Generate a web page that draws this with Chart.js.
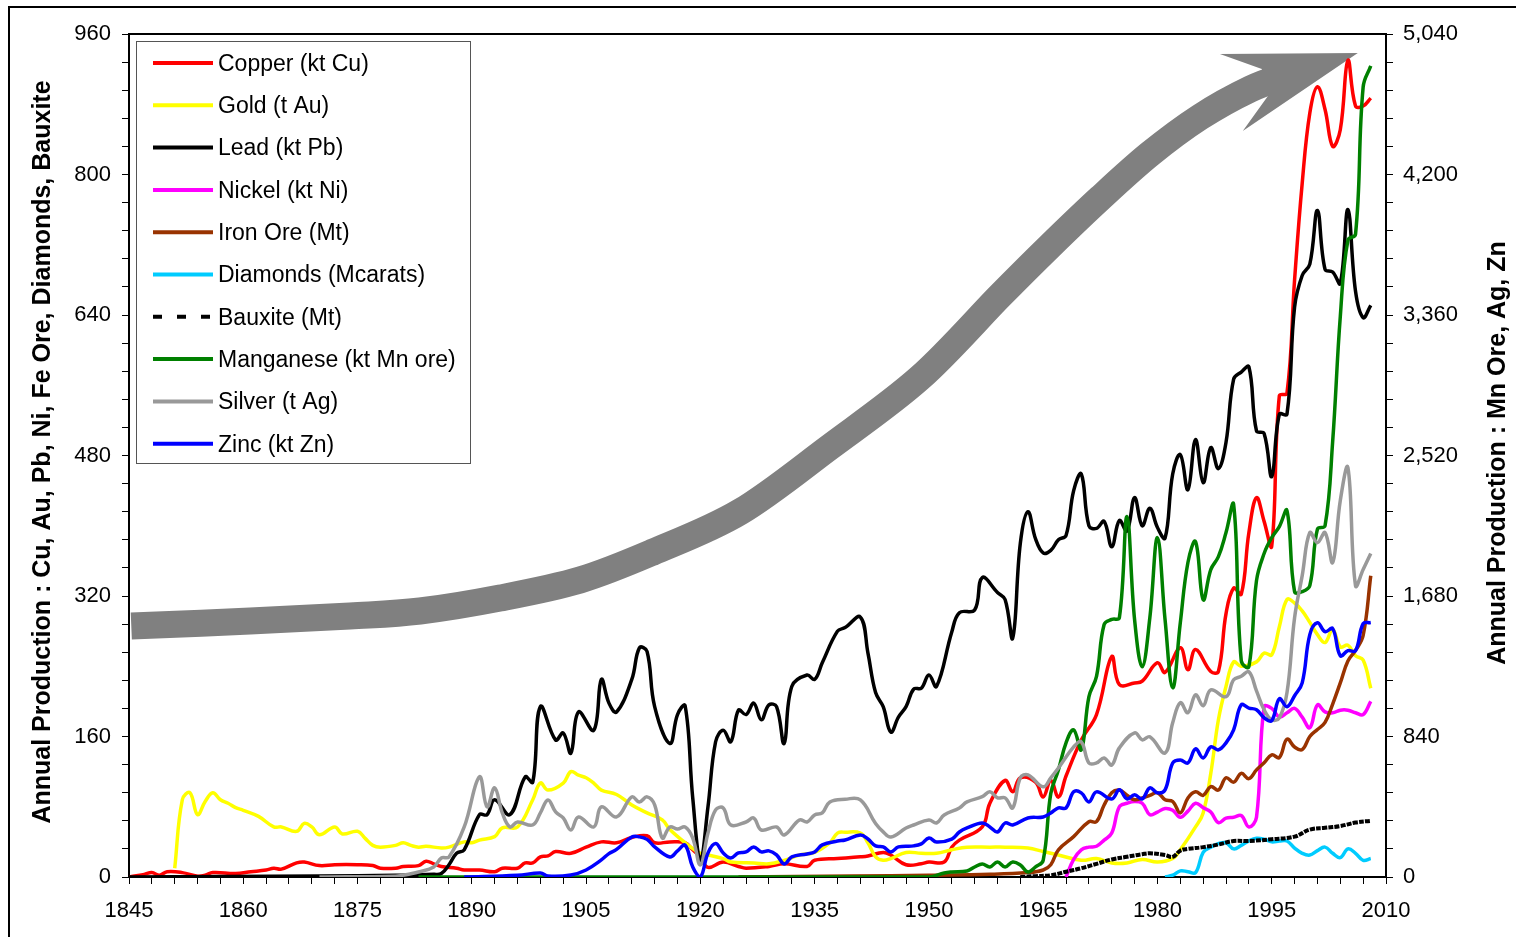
<!DOCTYPE html>
<html>
<head>
<meta charset="utf-8">
<title>Annual Production</title>
<script src="https://cdn.jsdelivr.net/npm/chart.js@4.4.1/dist/chart.umd.min.js"></script>
<style>
  html, body { margin: 0; padding: 0; background: #ffffff; }
  canvas { display: block; }
</style>
</head>
<body>
<canvas id="chart" width="1516" height="937"></canvas>
<script>
// ---- Series data (year, annual production) ----
const copperYears = [
  1845,1847,1848,1849,1850,1852,1854,1855,1856,1859,
  1861,1863,1864,1865,1867,1868,1870,1872,1875,1877,
  1878,1880,1881,1883,1884,1885,1886,1888,1889,1891,
  1893,1894,1896,1897,1898,1899,1900,1901,1903,1905,
  1907,1909,1911,1913,1914,1916,1918,1919,1920,1921,
  1923,1925,1926,1929,1931,1934,1935,1938,1941,1942,
  1944,1945,1947,1949,1950,1952,1953,1954,1957,1958,
  1960,1961,1962,1964,1965,1966,1967,1968,1970,1972,
  1974,1975,1977,1978,1980,1981,1983,1984,1985,1987,
  1988,1989,1990,1991,1992,1993,1994,1995,1996,1997,
  1998,1999,2000,2001,2002,2003,2004,2005,2006,2007,
  2008];
const copperValues = [
  0,3,5,2,6,5,1,2,5,4,
  6,8,10,9,16,17,13,14,14,13,
  10,10,12,13,18,15,12,10,8,8,
  6,10,10,16,16,23,24,29,27,34,
  40,39,45,47,39,40,39,31,23,11,
  17,12,10,12,15,12,19,21,23,24,
  28,25,14,15,17,17,34,42,57,84,
  110,97,113,108,91,110,91,115,156,185,
  251,219,221,223,244,233,261,236,259,234,
  234,300,329,322,392,432,405,377,548,551,
  680,790,870,900,874,832,851,930,878,878,
  887];

const goldYears = [
  1851,1852,1853,1854,1855,1856,1857,1858,1859,1860,
  1862,1864,1865,1867,1868,1869,1870,1872,1873,1875,
  1876,1877,1878,1880,1881,1882,1883,1884,1886,1887,
  1889,1890,1891,1893,1894,1896,1898,1899,1900,1902,
  1903,1904,1905,1906,1907,1909,1911,1913,1915,1916,
  1918,1920,1921,1923,1924,1927,1929,1931,1933,1935,
  1937,1938,1939,1941,1942,1943,1944,1945,1947,1949,
  1951,1953,1955,1958,1960,1963,1965,1967,1970,1972,
  1974,1976,1978,1980,1982,1983,1985,1986,1987,1988,
  1989,1990,1991,1993,1994,1995,1996,1997,1998,1999,
  2000,2001,2002,2003,2004,2005,2006,2007,2008];
const goldValues = [
  10,88,96,71,86,96,88,84,79,76,
  69,57,57,52,61,57,48,57,49,52,
  44,36,34,36,39,36,34,35,33,34,
  40,39,42,46,56,57,88,107,99,107,
  120,116,113,107,99,94,82,73,65,54,
  39,27,25,21,17,16,15,19,25,28,
  39,50,51,50,39,23,19,21,28,27,
  27,31,34,34,34,33,29,25,19,21,
  16,16,20,17,21,31,57,73,118,179,
  217,245,240,245,255,253,285,316,312,303,
  290,276,267,282,262,264,252,247,215];

const leadYears = [
  1845,1870,1880,1885,1886,1887,1888,1889,1891,1892,
  1893,1895,1897,1898,1899,1901,1902,1903,1904,1906,
  1907,1908,1909,1911,1912,1913,1914,1916,1917,1918,
  1919,1920,1921,1922,1923,1924,1925,1926,1927,1928,
  1929,1930,1931,1932,1934,1935,1936,1938,1939,1941,
  1942,1943,1944,1945,1946,1947,1948,1949,1950,1951,
  1953,1954,1956,1957,1959,1960,1961,1962,1963,1964,
  1965,1966,1967,1968,1969,1970,1971,1972,1973,1974,
  1975,1976,1977,1978,1979,1980,1981,1982,1983,1984,
  1985,1986,1987,1988,1989,1990,1991,1992,1993,1994,
  1995,1996,1997,1998,1999,2000,2001,2002,2003,2004,
  2005,2006,2007,2008];
const leadValues = [
  0,1,2,3,4,14,27,31,71,71,
  88,71,114,108,194,156,164,141,188,167,
  225,198,188,225,261,257,194,152,185,195,
  90,19,80,154,167,154,190,185,198,179,
  196,194,152,217,230,225,244,280,284,296,
  255,210,194,165,182,194,214,215,230,217,
  279,301,304,341,324,316,272,380,416,385,
  369,372,384,389,440,459,400,397,405,376,
  406,394,432,400,420,398,386,459,481,441,
  498,449,489,465,495,567,575,581,508,505,
  456,527,527,649,685,698,759,692,689,676,
  760,667,637,651];

const nickelYears = [
  1968,1969,1970,1971,1972,1973,1974,1975,1976,1977,
  1978,1979,1980,1981,1982,1983,1984,1985,1986,1987,
  1988,1989,1990,1991,1992,1993,1994,1995,1996,1997,
  1998,1999,2000,2001,2002,2003,2004,2005,2006,2007,
  2008];
const nickelValues = [
  0,20,31,34,35,42,50,80,84,86,
  84,71,74,78,76,68,75,84,79,74,
  62,67,68,70,57,68,194,192,182,187,
  192,182,170,196,188,187,190,190,187,185,
  200];

const ironOreYears = [
  1925,1940,1950,1958,1963,1965,1966,1967,1969,1971,
  1972,1973,1974,1975,1976,1977,1978,1979,1980,1981,
  1982,1983,1984,1985,1986,1987,1988,1989,1990,1991,
  1992,1993,1994,1995,1996,1997,1998,1999,2000,2001,
  2002,2003,2004,2005,2006,2007,2008];
const ironOreValues = [
  0,1,2,3,5,8,14,31,46,63,
  63,82,96,99,93,88,90,93,96,88,
  86,73,90,97,93,103,99,113,108,118,
  112,122,130,139,136,157,148,145,160,168,
  176,197,221,246,258,275,343];

const diamondYears = [
  1981,1982,1983,1984,1985,1986,1987,1988,1989,1990,
  1991,1992,1993,1994,1995,1996,1997,1998,1999,2000,
  2001,2002,2003,2004,2005,2006,2007,2008];
const diamondValues = [
  0,2,7,6,5,28,34,38,39,32,
  36,41,44,43,40,41,41,33,27,25,
  30,34,27,22,32,27,19,21];

const bauxiteYears = [
  1962,1964,1966,1968,1970,1972,1974,1976,1978,1979,
  1981,1982,1983,1984,1986,1988,1990,1992,1995,1998,
  2000,2002,2004,2006,2008];
const bauxiteValues = [
  0,1,2,6,10,15,20,23,26,27,
  25,23,30,32,34,37,41,41,43,46,
  54,56,58,62,64];

const manganeseYears = [
  1883,1950,1952,1953,1955,1956,1957,1958,1959,1960,
  1961,1962,1963,1964,1965,1966,1967,1968,1969,1970,
  1971,1972,1973,1974,1975,1976,1977,1978,1979,1980,
  1981,1982,1983,1984,1985,1986,1987,1988,1989,1990,
  1991,1992,1993,1994,1995,1996,1997,1998,1999,2000,
  2001,2002,2003,2004,2005,2006,2007,2008];
const manganeseValues = [
  0,0,24,30,36,60,78,60,90,60,
  90,72,30,60,100,500,640,802,880,760,
  1077,1200,1510,1540,1550,2155,1538,1257,1550,2029,
  1538,1131,1520,1880,2005,1658,1838,1915,2059,2227,
  1293,1257,1772,1934,2029,2095,2191,1706,1706,1742,
  2080,2100,2604,3350,3807,3843,4723,4849];

const silverYears = [
  1870,1880,1882,1883,1885,1886,1887,1889,1891,1892,
  1893,1894,1895,1896,1898,1899,1900,1901,1902,1903,
  1904,1906,1907,1909,1911,1912,1913,1914,1915,1916,
  1917,1918,1919,1920,1921,1922,1923,1924,1926,1927,
  1928,1930,1931,1933,1934,1935,1936,1937,1939,1941,
  1943,1944,1945,1947,1948,1950,1951,1952,1954,1955,
  1957,1958,1959,1960,1961,1962,1963,1965,1966,1967,
  1969,1970,1971,1972,1973,1974,1975,1977,1978,1979,
  1981,1982,1983,1984,1985,1986,1987,1989,1990,1991,
  1992,1993,1994,1995,1996,1997,1998,1999,2000,2001,
  2002,2003,2004,2005,2006,2007,2008];
const silverValues = [
  0,5,20,30,60,114,120,299,599,419,
  533,383,299,329,311,383,461,389,353,281,
  359,299,419,359,479,449,479,431,233,299,
  287,299,233,72,263,401,413,311,329,353,
  281,299,251,341,329,371,383,449,465,461,
  320,270,239,293,311,341,323,371,413,449,
  480,509,473,473,413,593,611,539,593,652,
  778,808,682,682,712,670,772,862,820,838,
  742,922,1042,982,1089,1024,1119,1078,1179,1200,
  1227,1113,1000,940,952,1101,1550,1802,2059,1999,
  2059,1880,2251,2448,1742,1838,1934];

const zincYears = [
  1889,1896,1899,1900,1903,1905,1907,1908,1909,1911,
  1912,1913,1914,1916,1917,1918,1919,1920,1921,1922,
  1923,1924,1925,1926,1927,1928,1929,1930,1931,1932,
  1934,1935,1936,1938,1939,1941,1942,1943,1944,1945,
  1946,1948,1949,1950,1951,1953,1954,1955,1957,1958,
  1959,1960,1961,1963,1965,1966,1967,1968,1969,1970,
  1971,1972,1974,1975,1976,1977,1978,1979,1980,1981,
  1982,1983,1984,1985,1986,1987,1988,1989,1990,1991,
  1992,1993,1994,1995,1996,1997,1998,1999,2000,2001,
  2002,2003,2004,2005,2006,2007,2008];
const zincValues = [
  0,10,24,6,12,42,102,140,165,239,
  240,225,180,120,156,190,60,0,144,200,
  144,114,144,150,180,150,156,132,78,120,
  138,150,192,215,221,251,227,186,180,150,
  180,186,198,233,209,227,269,293,323,299,
  269,323,311,353,359,383,413,413,509,503,
  449,509,467,521,467,491,467,533,503,521,
  682,700,682,766,712,778,760,802,880,1030,
  1010,1000,952,935,1066,1018,1084,1161,1449,1520,
  1467,1485,1323,1353,1353,1515,1521];

// ---- Legend entries and axis titles ----
const seriesNames = [
  'Copper (kt Cu)', 'Gold (t Au)', 'Lead (kt Pb)', 'Nickel (kt Ni)', 'Iron Ore (Mt)',
  'Diamonds (Mcarats)', 'Bauxite (Mt)', 'Manganese (kt Mn ore)', 'Silver (t Ag)', 'Zinc (kt Zn)'
];
const leftAxisTitle = 'Annual Production : Cu, Au, Pb, Ni, Fe Ore, Diamonds, Bauxite';
const rightAxisTitle = 'Annual Production : Mn Ore, Ag, Zn';

// ---- Growth arrow, anchored in axis units (year, left-axis level) ----
const trendPathYears  = [1845.3, 1860.9, 1874.0, 1883.2, 1893.7, 1904.2, 1913.8, 1925.2, 1937.0, 1948.8, 1959.3, 1965.9, 1972.5, 1979.0, 1985.6, 1992.2, 1997.4];
const trendPathLevels = [285.8, 291.5, 297.2, 302.9, 317.7, 338.2, 370.1, 415.7, 489.7, 568.3, 661.6, 718.6, 773.2, 823.3, 865.5, 897.4, 914.4];
const trendHeadYears  = [1988.2, 2006.3, 1991.2, 1994.5, 1993.7];
const trendHeadLevels = [937.2, 938.4, 849.5, 889.4, 920.2];

// ---- Styling ----
const FONT = "'Liberation Sans', Arial, Helvetica, sans-serif";
const ARROW_COLOR = '#808080';
const ARROW_WIDTH = 27;

const series = [
  { x: copperYears,    y: copperValues,    color: '#ff0000', axis: 'y'  },
  { x: goldYears,      y: goldValues,      color: '#ffff00', axis: 'y'  },
  { x: leadYears,      y: leadValues,      color: '#000000', axis: 'y'  },
  { x: nickelYears,    y: nickelValues,    color: '#ff00ff', axis: 'y'  },
  { x: ironOreYears,   y: ironOreValues,   color: '#993300', axis: 'y'  },
  { x: diamondYears,   y: diamondValues,   color: '#00ccff', axis: 'y'  },
  { x: bauxiteYears,   y: bauxiteValues,   color: '#000000', axis: 'y', dash: [5, 1.2], legendDash: [9, 15] },
  { x: manganeseYears, y: manganeseValues, color: '#008000', axis: 'y2' },
  { x: silverYears,    y: silverValues,    color: '#999999', axis: 'y2' },
  { x: zincYears,      y: zincValues,      color: '#0000ff', axis: 'y2' }
];

const datasets = series.map((s, i) => ({
  label: seriesNames[i],
  data: s.x.map((yr, k) => ({ x: yr, y: s.y[k] })),
  yAxisID: s.axis,
  borderColor: s.color,
  backgroundColor: s.color,
  borderWidth: s.dash ? 4 : 3.5,
  borderDash: s.dash || [],
  legendDash: s.legendDash || [],
  borderJoinStyle: 'round',
  pointRadius: 0,
  pointHoverRadius: 0,
  tension: 0.4,
  fill: false,
  order: series.length - 1 - i
}));

// Catmull-Rom spline through a list of canvas points
function splineThrough(ctx, pts) {
  ctx.moveTo(pts[0].x, pts[0].y);
  for (let i = 0; i < pts.length - 1; i++) {
    const p0 = pts[i - 1] || pts[i];
    const p1 = pts[i];
    const p2 = pts[i + 1];
    const p3 = pts[i + 2] || p2;
    ctx.bezierCurveTo(
      p1.x + (p2.x - p0.x) / 6, p1.y + (p2.y - p0.y) / 6,
      p2.x - (p3.x - p1.x) / 6, p2.y - (p3.y - p1.y) / 6,
      p2.x, p2.y);
  }
}

const decorations = {
  id: 'decorations',
  beforeDatasetsDraw(chart) {
    const { ctx, scales } = chart;
    const xs = scales.x, ys = scales.y;
    const shaft = trendPathYears.map((yr, i) => ({ x: xs.getPixelForValue(yr), y: ys.getPixelForValue(trendPathLevels[i]) }));
    const head = trendHeadYears.map((yr, i) => ({ x: xs.getPixelForValue(yr), y: ys.getPixelForValue(trendHeadLevels[i]) }));
    ctx.save();
    ctx.strokeStyle = ARROW_COLOR;
    ctx.lineWidth = ARROW_WIDTH;
    ctx.lineCap = 'butt';
    ctx.lineJoin = 'round';
    ctx.beginPath();
    splineThrough(ctx, shaft);
    ctx.stroke();
    ctx.fillStyle = ARROW_COLOR;
    ctx.beginPath();
    head.forEach((p, i) => (i ? ctx.lineTo(p.x, p.y) : ctx.moveTo(p.x, p.y)));
    ctx.closePath();
    ctx.fill();
    ctx.restore();
  },
  afterDraw(chart) {
    const { ctx, chartArea: ca } = chart;
    ctx.save();

    // outer frame and top edge of the plot
    ctx.strokeStyle = '#000';
    ctx.lineWidth = 2;
    ctx.strokeRect(9, 7, 1700, 1100);
    ctx.beginPath();
    ctx.moveTo(ca.left - 1, ca.top);
    ctx.lineTo(ca.right + 1, ca.top);
    ctx.stroke();

    // axis titles, both reading bottom-to-top
    ctx.fillStyle = '#000';
    ctx.font = 'bold 25px ' + FONT;
    ctx.textAlign = 'center';
    ctx.textBaseline = 'middle';
    ctx.save();
    ctx.translate(43.5, 452);
    ctx.rotate(-Math.PI / 2);
    ctx.fillText(leftAxisTitle, 0, 0);
    ctx.restore();
    ctx.save();
    ctx.translate(1498.5, 453);
    ctx.rotate(-Math.PI / 2);
    ctx.fillText(rightAxisTitle, 0, 0);
    ctx.restore();

    // legend box
    const box = { x: 136.5, y: 41.5, w: 334, h: 422 };
    ctx.fillStyle = '#fff';
    ctx.fillRect(box.x, box.y, box.w, box.h);
    ctx.strokeStyle = '#555';
    ctx.lineWidth = 1;
    ctx.strokeRect(box.x, box.y, box.w, box.h);
    ctx.font = '23px ' + FONT;
    ctx.textAlign = 'left';
    ctx.textBaseline = 'middle';
    chart.data.datasets.forEach((ds, i) => {
      const y = 63 + i * 42.3;
      ctx.beginPath();
      ctx.setLineDash(ds.legendDash);
      ctx.strokeStyle = ds.borderColor;
      ctx.lineWidth = 4;
      ctx.moveTo(153, y);
      ctx.lineTo(213, y);
      ctx.stroke();
      ctx.setLineDash([]);
      ctx.fillStyle = '#000';
      ctx.fillText(ds.label, 218, y + 1.5);
    });
    ctx.restore();
  }
};

const tickFont = { family: FONT, size: 22 };
const axisGrid = { drawOnChartArea: false, drawTicks: true, tickLength: 7, color: '#000', lineWidth: 1 };
const axisBorder = { display: true, color: '#000', width: 2 };

new Chart(document.getElementById('chart'), {
  type: 'line',
  data: { datasets },
  options: {
    responsive: false,
    animation: false,
    events: [],
    layout: { padding: { top: 34, left: 0, right: 0, bottom: 0 } },
    plugins: { legend: { display: false }, tooltip: { enabled: false } },
    scales: {
      x: {
        type: 'linear', position: 'bottom', min: 1845, max: 2010,
        ticks: {
          stepSize: 3, autoSkip: false, maxRotation: 0, minRotation: 0, padding: 14,
          color: '#000', font: tickFont,
          callback: v => ((v - 1845) % 15 === 0 ? String(v) : '')
        },
        grid: axisGrid, border: axisBorder,
        afterFit: s => { s.height = 60; }
      },
      y: {
        type: 'linear', position: 'left', min: 0, max: 960,
        ticks: {
          stepSize: 32, autoSkip: false, padding: 11, color: '#000', font: tickFont,
          callback: v => (v % 160 === 0 ? String(v) : '')
        },
        grid: axisGrid, border: axisBorder,
        afterFit: s => { s.width = 129; }
      },
      y2: {
        type: 'linear', position: 'right', min: 0, max: 5040,
        ticks: {
          stepSize: 168, autoSkip: false, padding: 10, color: '#000', font: tickFont,
          callback: v => (v % 840 === 0 ? v.toLocaleString('en-US') : '')
        },
        grid: axisGrid, border: axisBorder,
        afterFit: s => { s.width = 130; }
      }
    }
  },
  plugins: [decorations]
});
</script>
</body>
</html>
